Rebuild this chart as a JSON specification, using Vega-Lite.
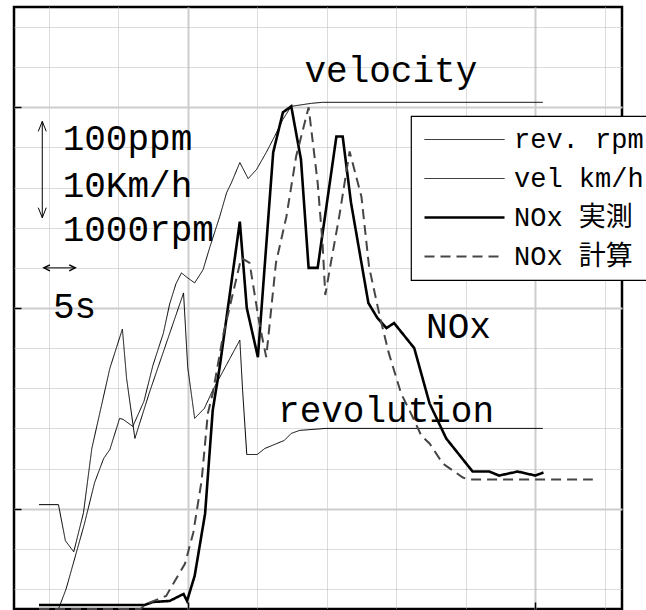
{
  "$schema": "https://vega.github.io/schema/vega-lite/v6.json",
  "width": 608,
  "height": 602,
  "autosize": {"type": "none"},
  "padding": {"left": 14, "top": 7, "right": 24, "bottom": 1},
  "background": "white",
  "datasets": {
    "series": [
      {"s": "rev. rpm", "t": 3.6, "v": 104}, {"s": "rev. rpm", "t": 6.4, "v": 104}, {"s": "rev. rpm", "t": 7.4, "v": 68}, {"s": "rev. rpm", "t": 8.6, "v": 57}, {"s": "rev. rpm", "t": 10.0, "v": 96}, {"s": "rev. rpm", "t": 11.2, "v": 160}, {"s": "rev. rpm", "t": 13.8, "v": 240}, {"s": "rev. rpm", "t": 15.6, "v": 279}, {"s": "rev. rpm", "t": 16.2, "v": 230}, {"s": "rev. rpm", "t": 17.4, "v": 170}, {"s": "rev. rpm", "t": 19.5, "v": 216}, {"s": "rev. rpm", "t": 24.4, "v": 315}, {"s": "rev. rpm", "t": 25.0, "v": 241}, {"s": "rev. rpm", "t": 26.0, "v": 190}, {"s": "rev. rpm", "t": 27.4, "v": 200}, {"s": "rev. rpm", "t": 28.6, "v": 218}, {"s": "rev. rpm", "t": 32.5, "v": 268}, {"s": "rev. rpm", "t": 32.9, "v": 218}, {"s": "rev. rpm", "t": 33.5, "v": 154}, {"s": "rev. rpm", "t": 35.0, "v": 154}, {"s": "rev. rpm", "t": 36.1, "v": 160}, {"s": "rev. rpm", "t": 38.9, "v": 168}, {"s": "rev. rpm", "t": 39.9, "v": 175}, {"s": "rev. rpm", "t": 41.1, "v": 178}, {"s": "rev. rpm", "t": 44.9, "v": 180}, {"s": "rev. rpm", "t": 76.1, "v": 180},
      {"s": "vel km/h", "t": 3.6, "v": 0}, {"s": "vel km/h", "t": 6.4, "v": 0}, {"s": "vel km/h", "t": 7.5, "v": 20}, {"s": "vel km/h", "t": 10.1, "v": 84}, {"s": "vel km/h", "t": 11.6, "v": 126}, {"s": "vel km/h", "t": 12.9, "v": 150}, {"s": "vel km/h", "t": 13.8, "v": 159}, {"s": "vel km/h", "t": 15.2, "v": 190}, {"s": "vel km/h", "t": 15.7, "v": 189}, {"s": "vel km/h", "t": 17.1, "v": 182}, {"s": "vel km/h", "t": 18.7, "v": 207}, {"s": "vel km/h", "t": 20.0, "v": 243}, {"s": "vel km/h", "t": 21.5, "v": 275}, {"s": "vel km/h", "t": 22.4, "v": 304}, {"s": "vel km/h", "t": 23.3, "v": 324}, {"s": "vel km/h", "t": 24.1, "v": 335}, {"s": "vel km/h", "t": 24.8, "v": 331}, {"s": "vel km/h", "t": 26.0, "v": 325}, {"s": "vel km/h", "t": 27.2, "v": 338}, {"s": "vel km/h", "t": 28.2, "v": 361}, {"s": "vel km/h", "t": 29.6, "v": 391}, {"s": "vel km/h", "t": 30.6, "v": 415}, {"s": "vel km/h", "t": 31.3, "v": 425}, {"s": "vel km/h", "t": 32.5, "v": 445}, {"s": "vel km/h", "t": 33.7, "v": 429}, {"s": "vel km/h", "t": 34.9, "v": 438}, {"s": "vel km/h", "t": 36.3, "v": 455}, {"s": "vel km/h", "t": 37.5, "v": 471}, {"s": "vel km/h", "t": 38.7, "v": 488}, {"s": "vel km/h", "t": 39.9, "v": 501}, {"s": "vel km/h", "t": 42.8, "v": 504}, {"s": "vel km/h", "t": 44.4, "v": 505}, {"s": "vel km/h", "t": 76.1, "v": 505},
      {"s": "NOx 実測", "t": 3.6, "v": 4}, {"s": "NOx 実測", "t": 18.8, "v": 4}, {"s": "NOx 実測", "t": 20.0, "v": 7}, {"s": "NOx 実測", "t": 22.4, "v": 8}, {"s": "NOx 実測", "t": 24.4, "v": 15}, {"s": "NOx 実測", "t": 24.9, "v": 8}, {"s": "NOx 実測", "t": 26.0, "v": 33}, {"s": "NOx 実測", "t": 27.5, "v": 95}, {"s": "NOx 実測", "t": 28.6, "v": 198}, {"s": "NOx 実測", "t": 29.6, "v": 241}, {"s": "NOx 実測", "t": 32.5, "v": 386}, {"s": "NOx 実測", "t": 33.5, "v": 300}, {"s": "NOx 実測", "t": 35.1, "v": 251}, {"s": "NOx 実測", "t": 37.3, "v": 455}, {"s": "NOx 実測", "t": 38.7, "v": 495}, {"s": "NOx 実測", "t": 39.9, "v": 501}, {"s": "NOx 実測", "t": 41.3, "v": 448}, {"s": "NOx 実測", "t": 42.4, "v": 340}, {"s": "NOx 実測", "t": 43.7, "v": 340}, {"s": "NOx 実測", "t": 46.4, "v": 471}, {"s": "NOx 実測", "t": 47.3, "v": 471}, {"s": "NOx 実測", "t": 48.5, "v": 405}, {"s": "NOx 実測", "t": 51.0, "v": 305}, {"s": "NOx 実測", "t": 52.3, "v": 290}, {"s": "NOx 実測", "t": 53.6, "v": 280}, {"s": "NOx 実測", "t": 54.7, "v": 285}, {"s": "NOx 実測", "t": 57.6, "v": 260}, {"s": "NOx 実測", "t": 59.8, "v": 205}, {"s": "NOx 実測", "t": 62.2, "v": 170}, {"s": "NOx 実測", "t": 66.0, "v": 137}, {"s": "NOx 実測", "t": 68.4, "v": 137}, {"s": "NOx 実測", "t": 69.8, "v": 133}, {"s": "NOx 実測", "t": 72.5, "v": 137}, {"s": "NOx 実測", "t": 75.0, "v": 133}, {"s": "NOx 実測", "t": 76.2, "v": 136},
      {"s": "NOx 計算", "t": 3.6, "v": 0}, {"s": "NOx 計算", "t": 18.2, "v": 0}, {"s": "NOx 計算", "t": 19.0, "v": 5}, {"s": "NOx 計算", "t": 21.9, "v": 13}, {"s": "NOx 計算", "t": 22.9, "v": 25}, {"s": "NOx 計算", "t": 24.6, "v": 45}, {"s": "NOx 計算", "t": 25.8, "v": 76}, {"s": "NOx 計算", "t": 27.0, "v": 128}, {"s": "NOx 計算", "t": 27.9, "v": 195}, {"s": "NOx 計算", "t": 28.6, "v": 215}, {"s": "NOx 計算", "t": 30.1, "v": 273}, {"s": "NOx 計算", "t": 32.7, "v": 350}, {"s": "NOx 計算", "t": 33.9, "v": 345}, {"s": "NOx 計算", "t": 35.3, "v": 285}, {"s": "NOx 計算", "t": 36.3, "v": 251}, {"s": "NOx 計算", "t": 37.7, "v": 345}, {"s": "NOx 計算", "t": 39.2, "v": 391}, {"s": "NOx 計算", "t": 40.6, "v": 451}, {"s": "NOx 計算", "t": 42.4, "v": 500}, {"s": "NOx 計算", "t": 43.7, "v": 425}, {"s": "NOx 計算", "t": 44.4, "v": 365}, {"s": "NOx 計算", "t": 44.8, "v": 313}, {"s": "NOx 計算", "t": 45.6, "v": 345}, {"s": "NOx 計算", "t": 46.8, "v": 391}, {"s": "NOx 計算", "t": 48.3, "v": 456}, {"s": "NOx 計算", "t": 50.0, "v": 411}, {"s": "NOx 計算", "t": 51.1, "v": 341}, {"s": "NOx 計算", "t": 52.6, "v": 293}, {"s": "NOx 計算", "t": 53.9, "v": 256}, {"s": "NOx 計算", "t": 55.7, "v": 215}, {"s": "NOx 計算", "t": 57.4, "v": 191}, {"s": "NOx 計算", "t": 58.6, "v": 173}, {"s": "NOx 計算", "t": 59.8, "v": 165}, {"s": "NOx 計算", "t": 61.7, "v": 145}, {"s": "NOx 計算", "t": 64.6, "v": 131}, {"s": "NOx 計算", "t": 65.5, "v": 129}, {"s": "NOx 計算", "t": 83.3, "v": 129}
    ],
    "labels": [
      {"label": "velocity", "t": 41.8, "v": 525},
      {"label": "100ppm", "t": 7.0, "v": 457},
      {"label": "10Km/h", "t": 7.0, "v": 411},
      {"label": "1000rpm", "t": 7.0, "v": 367},
      {"label": "5s", "t": 5.6, "v": 290},
      {"label": "NOx", "t": 59.3, "v": 270},
      {"label": "revolution", "t": 38.0, "v": 186}
    ],
    "arrows": [
      {"name": "scale", "t": 4.07, "v": 486, "t2": 4.07, "v2": 390},
      {"name": "time", "t": 4.31, "v": 340, "t2": 8.81, "v2": 340}
    ],
    "heads": [
      {"dir": "up", "t": 4.07, "v": 486},
      {"dir": "down", "t": 4.07, "v": 390},
      {"dir": "left", "t": 4.31, "v": 340},
      {"dir": "right", "t": 8.81, "v": 340}
    ]
  },
  "layer": [
    {
      "data": {"name": "series"},
      "mark": {"type": "line", "interpolate": "linear"},
      "encoding": {
        "x": {
          "field": "t", "type": "quantitative",
          "scale": {"domain": [0, 87.5], "nice": false, "zero": false},
          "axis": {
            "values": [5, 10, 15, 20, 25, 30, 35, 40, 45, 50, 55, 60, 65, 70, 75, 80, 85],
            "labels": false, "domain": false, "title": null, "grid": true,
            "gridColor": {"condition": {"test": "datum.value % 25 === 0", "value": "#cdcdcd"}, "value": "#b8b8b8"},
            "gridWidth": {"condition": {"test": "datum.value % 25 === 0", "value": 2}, "value": 1},
            "gridDash": {"condition": {"test": "datum.value % 25 === 0", "value": []}, "value": [1, 1]},
            "ticks": true, "tickColor": "black", "tickWidth": 1.5,
            "tickSize": -7,
            "tickOpacity": {"condition": {"test": "datum.value % 25 === 0", "value": 1}, "value": 0}
          }
        },
        "y": {
          "field": "v", "type": "quantitative",
          "scale": {"domain": [0, 600], "nice": false, "zero": false},
          "axis": {
            "values": [20, 40, 60, 80, 100, 120, 140, 160, 180, 200, 220, 240, 260, 280, 300, 320, 340, 360, 380, 400, 420, 440, 460, 480, 500, 520, 540, 560, 580],
            "labels": false, "domain": false, "title": null, "grid": true,
            "gridColor": {"condition": {"test": "datum.value % 100 === 0", "value": "#cdcdcd"}, "value": "#b8b8b8"},
            "gridWidth": {"condition": {"test": "datum.value % 100 === 0", "value": 2}, "value": 1},
            "gridDash": {"condition": {"test": "datum.value % 100 === 0", "value": []}, "value": [1, 1]},
            "ticks": true, "tickColor": "black", "tickWidth": 1.5,
            "tickSize": -7,
            "tickOpacity": {"condition": {"test": "datum.value % 100 === 0", "value": 1}, "value": 0}
          }
        },
        "color": {
          "field": "s", "type": "nominal",
          "scale": {"domain": ["rev. rpm", "vel km/h", "NOx 実測", "NOx 計算"], "range": ["#000000", "#000000", "#000000", "#454545"]},
          "legend": {"title": null}
        },
        "strokeWidth": {
          "field": "s", "type": "nominal",
          "scale": {"type": "ordinal", "domain": ["rev. rpm", "vel km/h", "NOx 実測", "NOx 計算"], "range": [1, 1, 2.6, 2]},
          "legend": {"title": null}
        },
        "strokeDash": {
          "field": "s", "type": "nominal",
          "scale": {"domain": ["rev. rpm", "vel km/h", "NOx 実測", "NOx 計算"], "range": [[1, 0], [1, 0], [1, 0], [10, 6]]},
          "legend": {"title": null}
        }
      }
    },
    {
      "data": {"name": "labels"},
      "mark": {"type": "text", "align": "left", "baseline": "alphabetic", "font": "Liberation Mono", "fontSize": 36, "color": "black"},
      "encoding": {
        "x": {"field": "t", "type": "quantitative"},
        "y": {"field": "v", "type": "quantitative"},
        "text": {"field": "label"}
      }
    },
    {
      "data": {"name": "arrows"},
      "mark": {"type": "rule", "color": "black", "strokeWidth": 1},
      "encoding": {
        "x": {"field": "t", "type": "quantitative"},
        "y": {"field": "v", "type": "quantitative"},
        "x2": {"field": "t2"},
        "y2": {"field": "v2"}
      }
    },
    {
      "data": {"name": "heads"},
      "transform": [{"filter": "datum.dir === 'up'"}],
      "mark": {"type": "point", "shape": "M-0.4,1L0,0L0.4,1", "size": 400, "filled": false, "color": "black", "strokeWidth": 1, "opacity": 1},
      "encoding": {"x": {"field": "t", "type": "quantitative"}, "y": {"field": "v", "type": "quantitative"}}
    },
    {
      "data": {"name": "heads"},
      "transform": [{"filter": "datum.dir === 'down'"}],
      "mark": {"type": "point", "shape": "M-0.4,-1L0,0L0.4,-1", "size": 400, "filled": false, "color": "black", "strokeWidth": 1, "opacity": 1},
      "encoding": {"x": {"field": "t", "type": "quantitative"}, "y": {"field": "v", "type": "quantitative"}}
    },
    {
      "data": {"name": "heads"},
      "transform": [{"filter": "datum.dir === 'left'"}],
      "mark": {"type": "point", "shape": "M1,-0.5L0,0L1,0.5", "size": 144, "filled": false, "color": "black", "strokeWidth": 1.5, "opacity": 1},
      "encoding": {"x": {"field": "t", "type": "quantitative"}, "y": {"field": "v", "type": "quantitative"}}
    },
    {
      "data": {"name": "heads"},
      "transform": [{"filter": "datum.dir === 'right'"}],
      "mark": {"type": "point", "shape": "M-1,-0.5L0,0L-1,0.5", "size": 144, "filled": false, "color": "black", "strokeWidth": 1.5, "opacity": 1},
      "encoding": {"x": {"field": "t", "type": "quantitative"}, "y": {"field": "v", "type": "quantitative"}}
    }
  ],
  "config": {
    "view": {"stroke": "black", "strokeWidth": 2.5},
    "legend": {
      "orient": "none", "legendX": 397, "legendY": 109,
      "symbolType": "M-1,0H7", "symbolSize": 400,
      "labelFont": "Liberation Mono, Noto Sans CJK JP", "labelFontSize": 27, "labelColor": "black",
      "labelOffset": 66, "labelLimit": 400,
      "fillColor": "white", "strokeColor": "black", "strokeWidth": 1.2,
      "padding": 10, "rowPadding": 11, "cornerRadius": 0
    }
  }
}
